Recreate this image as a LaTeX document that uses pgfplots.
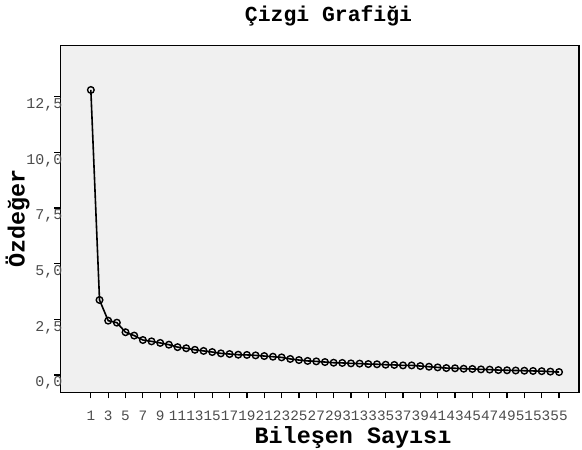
\documentclass[border=0pt]{standalone}
\usepackage{fontspec}
\setmainfont{Liberation Mono}
\usepackage{pgfplots}
\pgfplotsset{compat=1.18}
\definecolor{plotbg}{HTML}{F0F0F0}
\pgfplotstableread{
x y
1 12.81
2 3.37
3 2.44
4 2.35
5 1.92
6 1.77
7 1.57
8 1.51
9 1.44
10 1.36
11 1.25
12 1.20
13 1.13
14 1.08
15 1.03
16 0.97
17 0.94
18 0.91
19 0.90
20 0.88
21 0.85
22 0.82
23 0.79
24 0.72
25 0.67
26 0.63
27 0.61
28 0.58
29 0.55
30 0.54
31 0.52
32 0.51
33 0.49
34 0.48
35 0.46
36 0.45
37 0.43
38 0.43
39 0.40
40 0.37
41 0.34
42 0.31
43 0.30
44 0.28
45 0.27
46 0.25
47 0.24
48 0.22
49 0.21
50 0.20
51 0.19
52 0.18
53 0.17
54 0.15
55 0.13
}\eigen
\begin{document}
\begin{tikzpicture}
\path[use as bounding box] (-60.5bp,-57.7bp) rectangle (521.5bp,392.3bp);
\begin{axis}[
  at={(0,0)}, anchor=south west,
  scale only axis, width=518.5bp, height=346.6bp,
  xmin=-2.5, xmax=57.3, ymin=-0.78, ymax=14.8,
  axis background/.style={fill=plotbg},
  axis line style={line width=1.3bp, black},
  xtick={1,3,...,55}, ytick={0,2.5,...,12.5},
  tick align=outside, major tick length=6bp,
  tick style={line width=1.2bp, black},
  tick pos=left,
  /pgf/number format/assume math mode=true,
  yticklabel style={/pgf/number format/.cd, fixed, fixed zerofill, precision=1, use comma, /tikz/.cd,
    font=\fontsize{15}{16}\selectfont, text=black!70, anchor=east, inner sep=0pt, xshift=8bp, yshift=-8bp},
  xticklabel style={font=\fontsize{14.4}{15}\selectfont, text=black!70, anchor=north, inner sep=0pt, yshift=-12.5bp},
]
\addplot[black, line width=1.6bp, mark=o, mark size=3.3bp, mark options={line width=1.4bp}] table[x=x,y=y] {\eigen};
\end{axis}
\node[font=\bfseries\fontsize{21.5}{22}\selectfont] at (268bp,376.3bp) {Çizgi Grafiği};
\node[font=\bfseries\fontsize{23.5}{24}\selectfont] at (292.5bp,-45.5bp) {Bileşen Sayısı};
\node[font=\bfseries\fontsize{23.5}{24}\selectfont, rotate=90] at (-43bp,173.8bp) {Özdeğer};
\end{tikzpicture}
\end{document}
